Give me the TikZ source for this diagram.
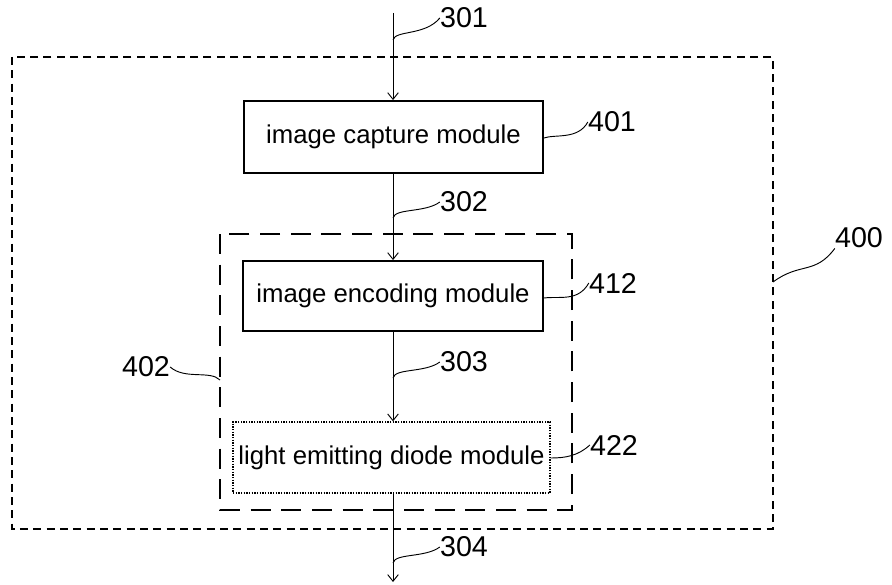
\documentclass[tikz,border=0pt]{standalone}
\usepackage{fontspec}
\setmainfont{Liberation Sans}
\usetikzlibrary{arrows.meta,positioning}

\begin{document}
\begin{tikzpicture}[
    x=0.75pt, y=-0.75pt,
    >={Straight Barb[length=5pt,width=8pt]},
    box/.style={rectangle, draw, line width=1.4pt, minimum width=#1, align=center, font=\fontsize{19.3}{22}\selectfont, inner sep=0pt},
    num/.style={font=\fontsize{21.5}{24}\selectfont, inner sep=0pt},
    lead/.style={line width=0.7pt}
]
    \useasboundingbox (0,0) rectangle (892,585);

    % outer unit and sub-unit frames
    \draw[line width=0.9pt, dash pattern=on 6pt off 4pt] (12,57) rectangle (773,529);
    \draw[line width=1.5pt, dash pattern=on 15pt off 8pt] (220,234) rectangle (572,510);

    % modules
    \node[box=224.25pt, minimum height=54pt] (cap) at (393.5,137) {image capture module};
    \node[box=225pt, minimum height=52.5pt] (enc) at (393,296) {image encoding module};
    \node[box=237.75pt, minimum height=53.25pt, line width=1pt, densely dotted] (led) at (391.5,457.5) {light emitting diode module};

    % signal path
    \coordinate (in) at (393,13);
    \coordinate (out) at (393,582);
    \draw[->, line width=0.7pt] (in) -- (in |- cap.north);
    \draw[->, line width=0.7pt] (in |- cap.south) -- (in |- enc.north);
    \draw[->, line width=0.7pt] (in |- enc.south) -- (in |- led.north);
    \draw[->, line width=0.7pt] (in |- led.south) -- (out);

    % reference numerals
    \node[num] (n301) at (464,18) {301};
    \node[num] (n401) at (612,122) {401};
    \node[num] (n302) at (464,202) {302};
    \node[num] (n400) at (859,238) {400};
    \node[num] (n412) at (613,283) {412};
    \node[num] (n402) at (146,367) {402};
    \node[num] (n303) at (464,362) {303};
    \node[num] (n422) at (614,445) {422};
    \node[num] (n304) at (464,547) {304};

    \draw[lead] (393,40) .. controls (395,30) and (425,36) .. (n301.west);
    \draw[lead] (cap.east |- 0,138) .. controls (555,134) and (578,140) .. (n401.west);
    \draw[lead] (393,218) .. controls (395,208) and (425,213) .. (n302.west);
    \draw[lead] (773,282) .. controls (800,262) and (815,275) .. (n400.south west);
    \draw[lead] (enc.east |- 0,298) .. controls (560,296) and (578,302) .. (n412.west);
    \draw[lead] (n402.east) .. controls (185,380) and (210,370) .. (220,380);
    \draw[lead] (393,378) .. controls (395,368) and (425,373) .. (n303.west);
    \draw[lead] (led.east |- 0,458) .. controls (565,458) and (578,456) .. (n422.west);
    \draw[lead] (393,563) .. controls (395,553) and (425,558) .. (n304.west);
\end{tikzpicture}
\end{document}
